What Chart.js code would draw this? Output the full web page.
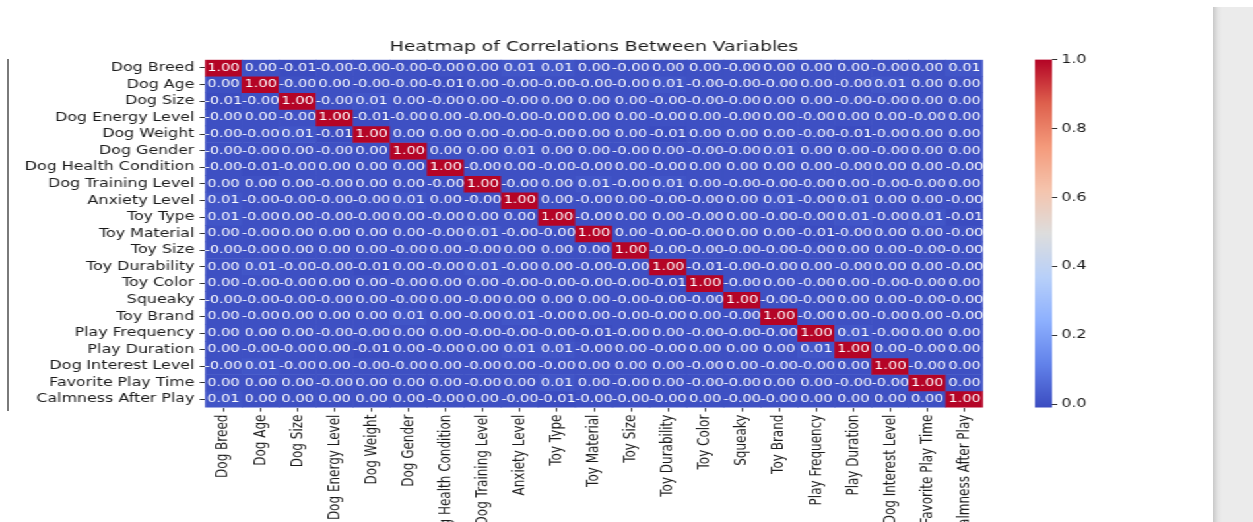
<!DOCTYPE html>
<html>
<head>
<meta charset="utf-8">
<script src="https://cdn.jsdelivr.net/npm/chart.js@4.4.0/dist/chart.umd.min.js"></script>
<style>
html, body { margin: 0; padding: 0; background: #fff; width: 1253px; height: 522px; overflow: hidden; }
#stage { position: absolute; left: 0; top: 0; width: 950px; height: 522px; transform: scaleX(1.32); transform-origin: 0 0; }
#heat { position: absolute; left: 0; top: 0; }
#cbar { position: absolute; left: 770px; top: 0; }
#edge { position: absolute; left: 7px; top: 59px; width: 2px; height: 352px; background: #7a7a7a; }
#side { position: absolute; left: 1213px; top: 7px; width: 40px; height: 515px;
        background: linear-gradient(to right, #c9c9c9, #e4e4e4 5px, #ebebeb 9px); }
</style>
</head>
<body>
<div id="edge"></div>
<div id="stage">
  <canvas id="heat" width="760" height="522"></canvas>
  <canvas id="cbar" width="67" height="522"></canvas>
</div>
<div id="side"></div>
<script>
Chart.defaults.font.family = "'DejaVu Sans', sans-serif";
Chart.defaults.color = '#222';

const varNames = ['Dog Breed', 'Dog Age', 'Dog Size', 'Dog Energy Level', 'Dog Weight', 'Dog Gender',
  'Dog Health Condition', 'Dog Training Level', 'Anxiety Level', 'Toy Type', 'Toy Material', 'Toy Size',
  'Toy Durability', 'Toy Color', 'Squeaky', 'Toy Brand', 'Play Frequency', 'Play Duration',
  'Dog Interest Level', 'Favorite Play Time', 'Calmness After Play'];

// correlations, one row per variable (-0.001 = shown as "-0.00")
const rowDogBreed = [1, 0, -0.01, -0.001, -0.001, -0.001, -0.001, 0, 0.01, 0.01, 0, -0.001, 0, 0, -0.001, 0, 0, 0, -0.001, 0, 0.01];
const rowDogAge = [0, 1, -0.001, 0, -0.001, -0.001, -0.01, 0, -0.001, -0.001, -0.001, -0.001, 0.01, -0.001, -0.001, -0.001, 0, -0.001, 0.01, 0, 0];
const rowDogSize = [-0.01, -0.001, 1, -0.001, 0.01, 0, -0.001, 0, -0.001, 0, 0, 0, -0.001, -0.001, -0.001, 0, 0, -0.001, -0.001, 0, 0];
const rowEnergy = [-0.001, 0, -0.001, 1, -0.01, -0.001, 0, -0.001, -0.001, -0.001, 0, 0, -0.001, 0, -0.001, 0, -0.001, 0, 0, -0.001, 0];
const rowWeight = [-0.001, -0.001, 0.01, -0.01, 1, 0, 0, 0, -0.001, -0.001, 0, 0, -0.01, 0, 0, 0, -0.001, -0.01, -0.001, 0, 0];
const rowGender = [-0.001, -0.001, 0, -0.001, 0, 1, 0, 0, 0.01, 0, 0, -0.001, 0, -0.001, -0.001, 0.01, 0, 0, -0.001, 0, 0];
const rowHealth = [-0.001, -0.01, -0.001, 0, 0, 0, 1, -0.001, 0, -0.001, -0.001, 0, -0.001, 0, 0, 0, 0, -0.001, 0, 0, -0.001];
const rowTraining = [0, 0, 0, -0.001, 0, 0, -0.001, 1, -0.001, 0, 0.01, -0.001, 0.01, 0, -0.001, -0.001, -0.001, 0, -0.001, -0.001, 0];
const rowAnxiety = [0.01, -0.001, -0.001, -0.001, -0.001, 0.01, 0, -0.001, 1, 0, -0.001, 0, -0.001, -0.001, 0, 0.01, -0.001, 0.01, 0, 0, -0.001];
const rowToyType = [0.01, -0.001, 0, -0.001, -0.001, 0, -0.001, 0, 0, 1, -0.001, 0, 0, -0.001, 0, -0.001, -0.001, 0.01, -0.001, 0.01, -0.01];
const rowMaterial = [0, -0.001, 0, 0, 0, 0, -0.001, 0.01, -0.001, -0.001, 1, 0, -0.001, -0.001, 0, 0, -0.01, -0.001, 0, 0, -0.001];
const rowToySize = [-0.001, -0.001, 0, 0, 0, -0.001, 0, -0.001, 0, 0, 0, 1, -0.001, -0.001, -0.001, -0.001, -0.001, 0, 0, -0.001, -0.001];
const rowDurability = [0, 0.01, -0.001, -0.001, -0.01, 0, -0.001, 0.01, -0.001, 0, -0.001, -0.001, 1, -0.01, -0.001, -0.001, 0, -0.001, 0, 0, -0.001];
const rowToyColor = [0, -0.001, -0.001, 0, 0, -0.001, 0, 0, -0.001, -0.001, -0.001, -0.001, -0.01, 1, -0.001, 0, -0.001, 0, -0.001, -0.001, 0];
const rowSqueaky = [-0.001, -0.001, -0.001, -0.001, 0, -0.001, 0, -0.001, 0, 0, 0, -0.001, -0.001, -0.001, 1, -0.001, -0.001, 0, 0, -0.001, -0.001];
const rowBrand = [0, -0.001, 0, 0, 0, 0.01, 0, -0.001, 0.01, -0.001, 0, -0.001, -0.001, 0, -0.001, 1, -0.001, 0, -0.001, 0, -0.001];
const rowFrequency = [0, 0, 0, -0.001, -0.001, 0, 0, -0.001, -0.001, -0.001, -0.01, -0.001, 0, -0.001, -0.001, -0.001, 1, 0.01, -0.001, 0, 0];
const rowDuration = [0, -0.001, -0.001, 0, -0.01, 0, -0.001, 0, 0.01, 0.01, -0.001, 0, -0.001, 0, 0, 0, 0.01, 1, 0, -0.001, 0];
const rowInterest = [-0.001, 0.01, -0.001, 0, -0.001, -0.001, 0, -0.001, 0, -0.001, 0, 0, 0, -0.001, 0, -0.001, -0.001, 0, 1, -0.001, 0];
const rowFavTime = [0, 0, 0, -0.001, 0, 0, 0, -0.001, 0, 0.01, 0, -0.001, 0, -0.001, -0.001, 0, 0, -0.001, -0.001, 1, 0];
const rowCalmness = [0.01, 0, 0, 0, 0, 0, -0.001, 0, -0.001, -0.01, -0.001, -0.001, -0.001, 0, -0.001, -0.001, 0, 0, 0, 0, 1];

const corrRows = [rowDogBreed, rowDogAge, rowDogSize, rowEnergy, rowWeight, rowGender, rowHealth,
  rowTraining, rowAnxiety, rowToyType, rowMaterial, rowToySize, rowDurability, rowToyColor,
  rowSqueaky, rowBrand, rowFrequency, rowDuration, rowInterest, rowFavTime, rowCalmness];

const colorMin = -0.01;
const colorMax = 1.0;
const colorbarTicks = [0, 0.2, 0.4, 0.6, 0.8, 1.0];

// coolwarm colormap stops
const coolwarm = [[59, 76, 192], [98, 130, 234], [141, 176, 254], [184, 208, 249], [221, 221, 221],
  [245, 196, 173], [244, 154, 123], [222, 96, 77], [180, 4, 38]];

function coolwarmAt(t) {
    t = Math.min(1, Math.max(0, t));
    let p = t * (coolwarm.length - 1);
    let i = Math.min(Math.floor(p), coolwarm.length - 2);
    let f = p - i;
    let a = coolwarm[i], b = coolwarm[i + 1];
    let c = a.map((v, k) => Math.round(v + (b[k] - v) * f));
    return 'rgb(' + c.join(',') + ')';
}

function cellColor(v) {
    return coolwarmAt((v - colorMin) / (colorMax - colorMin));
}

const cellText = {
    id: 'cellText',
    afterDatasetsDraw(chart) {
        let ctx = chart.ctx;
        ctx.save();
        ctx.font = "11px 'DejaVu Sans'";
        ctx.fillStyle = '#ffffff';
        ctx.textAlign = 'center';
        ctx.textBaseline = 'middle';
        corrRows.forEach((row, r) => {
            chart.getDatasetMeta(r).data.forEach((bar, c) => {
                ctx.fillText(row[c].toFixed(2), bar.x, (bar.y + bar.base) / 2);
            });
        });
        ctx.restore();
    }
};

let heatConfig = {
    type: 'bar',
    data: {
        labels: varNames,
        datasets: corrRows.map((row, r) => ({
            label: varNames[r],
            data: row.map(() => [r - 0.5, r + 0.5]),
            backgroundColor: row.map(cellColor),
            borderWidth: 0,
            barPercentage: 1,
            categoryPercentage: 1,
            grouped: false
        }))
    },
    options: {
        responsive: false,
        animation: false,
        layout: { padding: { left: 0, right: 15.3, top: 38.6, bottom: 0 } },
        plugins: {
            legend: { display: false },
            tooltip: { enabled: false },
            title: {
                display: true,
                fullSize: false,
                text: 'Heatmap of Correlations Between Variables',
                color: '#1a1a1a',
                font: { size: 14.2, weight: 'normal' },
                padding: { top: 0, bottom: 4 }
            }
        },
        scales: {
            x: {
                type: 'category',
                offset: true,
                grid: { offset: false, drawOnChartArea: false, tickLength: 4, tickColor: '#333' },
                border: { display: false },
                ticks: { autoSkip: false, minRotation: 90, maxRotation: 90, padding: 3,
                         color: '#1a1a1a', font: { size: 12 } },
                afterFit(scale) { scale.height = 114.4; }
            },
            y: {
                type: 'linear',
                reverse: true,
                min: -0.5,
                max: 20.5,
                grid: { drawOnChartArea: false, tickLength: 4, tickColor: '#333' },
                border: { display: false },
                ticks: { autoSkip: false, padding: 4, color: '#1a1a1a', font: { size: 12 },
                         callback: (v) => varNames[v] },
                afterBuildTicks(scale) { scale.ticks = varNames.map((n, i) => ({ value: i })); },
                afterFit(scale) { scale.width = 155.3; }
            }
        }
    },
    plugins: [cellText]
};

new Chart(document.getElementById('heat').getContext('2d'), heatConfig);

function colorbarFill(context) {
    let chart = context.chart;
    let y = chart.scales.y;
    if (!chart.chartArea || !y) { return cellColor(0); }
    let y0 = y.getPixelForValue(colorMin);
    let y1 = y.getPixelForValue(colorMax);
    if (!isFinite(y0) || !isFinite(y1)) { return cellColor(0); }
    let g = chart.ctx.createLinearGradient(0, y0, 0, y1);
    coolwarm.forEach((c, i) => {
        g.addColorStop(i / (coolwarm.length - 1), 'rgb(' + c.join(',') + ')');
    });
    return g;
}

let barConfig = {
    type: 'bar',
    data: {
        labels: ['corr'],
        datasets: [{
            data: [[colorMin, colorMax]],
            backgroundColor: colorbarFill,
            borderWidth: 0,
            barPercentage: 1,
            categoryPercentage: 1
        }]
    },
    options: {
        responsive: false,
        animation: false,
        layout: { padding: { left: 14, right: 0, top: 59.6, bottom: 114.4 } },
        plugins: { legend: { display: false }, tooltip: { enabled: false } },
        scales: {
            x: { display: false },
            y: {
                type: 'linear',
                position: 'right',
                min: colorMin,
                max: colorMax,
                grid: { drawOnChartArea: false, tickLength: 4, tickColor: '#333' },
                border: { display: false },
                ticks: { padding: 3, color: '#1a1a1a', font: { size: 12 },
                         callback: (v) => v.toFixed(1) },
                afterBuildTicks(scale) { scale.ticks = colorbarTicks.map(v => ({ value: v })); },
                afterFit(scale) { scale.width = 40; }
            }
        }
    }
};

new Chart(document.getElementById('cbar').getContext('2d'), barConfig);
</script>
</body>
</html>
